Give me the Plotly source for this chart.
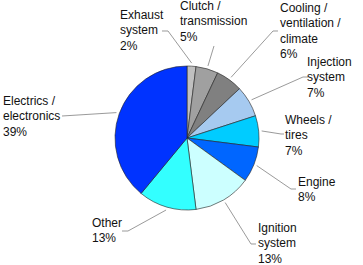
import math
import plotly.graph_objects as go

# ---- data ----
categories = [["Exhaust", "system"], ["Clutch /", "transmission"], ["Cooling /", "ventilation /", "climate"],
              ["Injection", "system"], ["Wheels /", "tires"], ["Engine"], ["Ignition", "system"],
              ["Other"], ["Electrics /", "electronics"]]
values = [2, 5, 6, 7, 7, 8, 13, 13, 39]
colors = ["#C0C0C0", "#A0A0A0", "#808080", "#A6CAF0", "#00CCFF", "#0066FF", "#CCFFFF", "#33FFFF", "#0033FF"]

# ---- layout (page pixel helpers) ----
FW, FH = 363, 265
def px(x):
    return x / FW
def py(y):
    return 1 - y / FH

cx, cy, r = 187, 138, 72

fig = go.Figure(go.Pie(
    values=values,
    labels=[" ".join(c) for c in categories],
    sort=False,
    direction="clockwise",
    rotation=0,
    textinfo="none",
    hoverinfo="label+percent",
    marker=dict(colors=colors, line=dict(color="#222222", width=0.6)),
    domain=dict(x=[px(cx - r), px(cx + r)], y=[py(cy + r), py(cy - r)]),
    showlegend=False,
))

# label: left x and centre y of first line; line step
label_pos = [(119, 15), (179, 6), (279, 8), (306, 62), (284, 120), (297, 182), (257, 228), (91, 223), (2, 101)]
LINE = 15.3
elbows = [
    [(162, 31), (168, 31)],
    [(214, 46)],
    [(278, 31), (273, 31)],
    [(308, 77), (303, 77)],
    [(284, 134), (281, 134)],
    [(296, 189), (291, 189)],
    [(256, 244), (251, 244)],
    [(122, 231), (128, 231)],
    [(62, 116)],
]

total = sum(values)
cum = 0
annotations = []
shapes = []
for i, (cat, v) in enumerate(zip(categories, values)):
    mid = (cum + v / 2) / total * 2 * math.pi
    cum += v
    ex = cx + (r + 3) * math.sin(mid)
    ey = cy - (r + 3) * math.cos(mid)
    pts = elbows[i] + [(ex, ey)]
    path = "M " + " L ".join(f"{px(x):.5f},{py(y):.5f}" for x, y in pts)
    shapes.append(dict(type="path", xref="paper", yref="paper", path=path,
                       line=dict(color="#808080", width=0.8)))
    pct = round(v / total * 100)
    lines = cat + [f"{pct}%"]
    lx, ly = label_pos[i]
    for k, t in enumerate(lines):
        annotations.append(dict(
            text=t, xref="paper", yref="paper",
            x=px(lx), y=py(ly + k * LINE), xanchor="left", yanchor="middle", align="left",
            borderpad=0, showarrow=False,
            font=dict(family="Liberation Sans, Arial, sans-serif", size=12, color="#111111"),
        ))

fig.update_layout(
    width=FW, height=FH,
    margin=dict(l=0, r=0, t=0, b=0),
    paper_bgcolor="white", plot_bgcolor="white",
    annotations=annotations, shapes=shapes,
)

fig.write_html("out.html",
               config={"displayModeBar": False},
               post_script="document.body.style.margin='0';document.body.style.overflow='hidden';")
